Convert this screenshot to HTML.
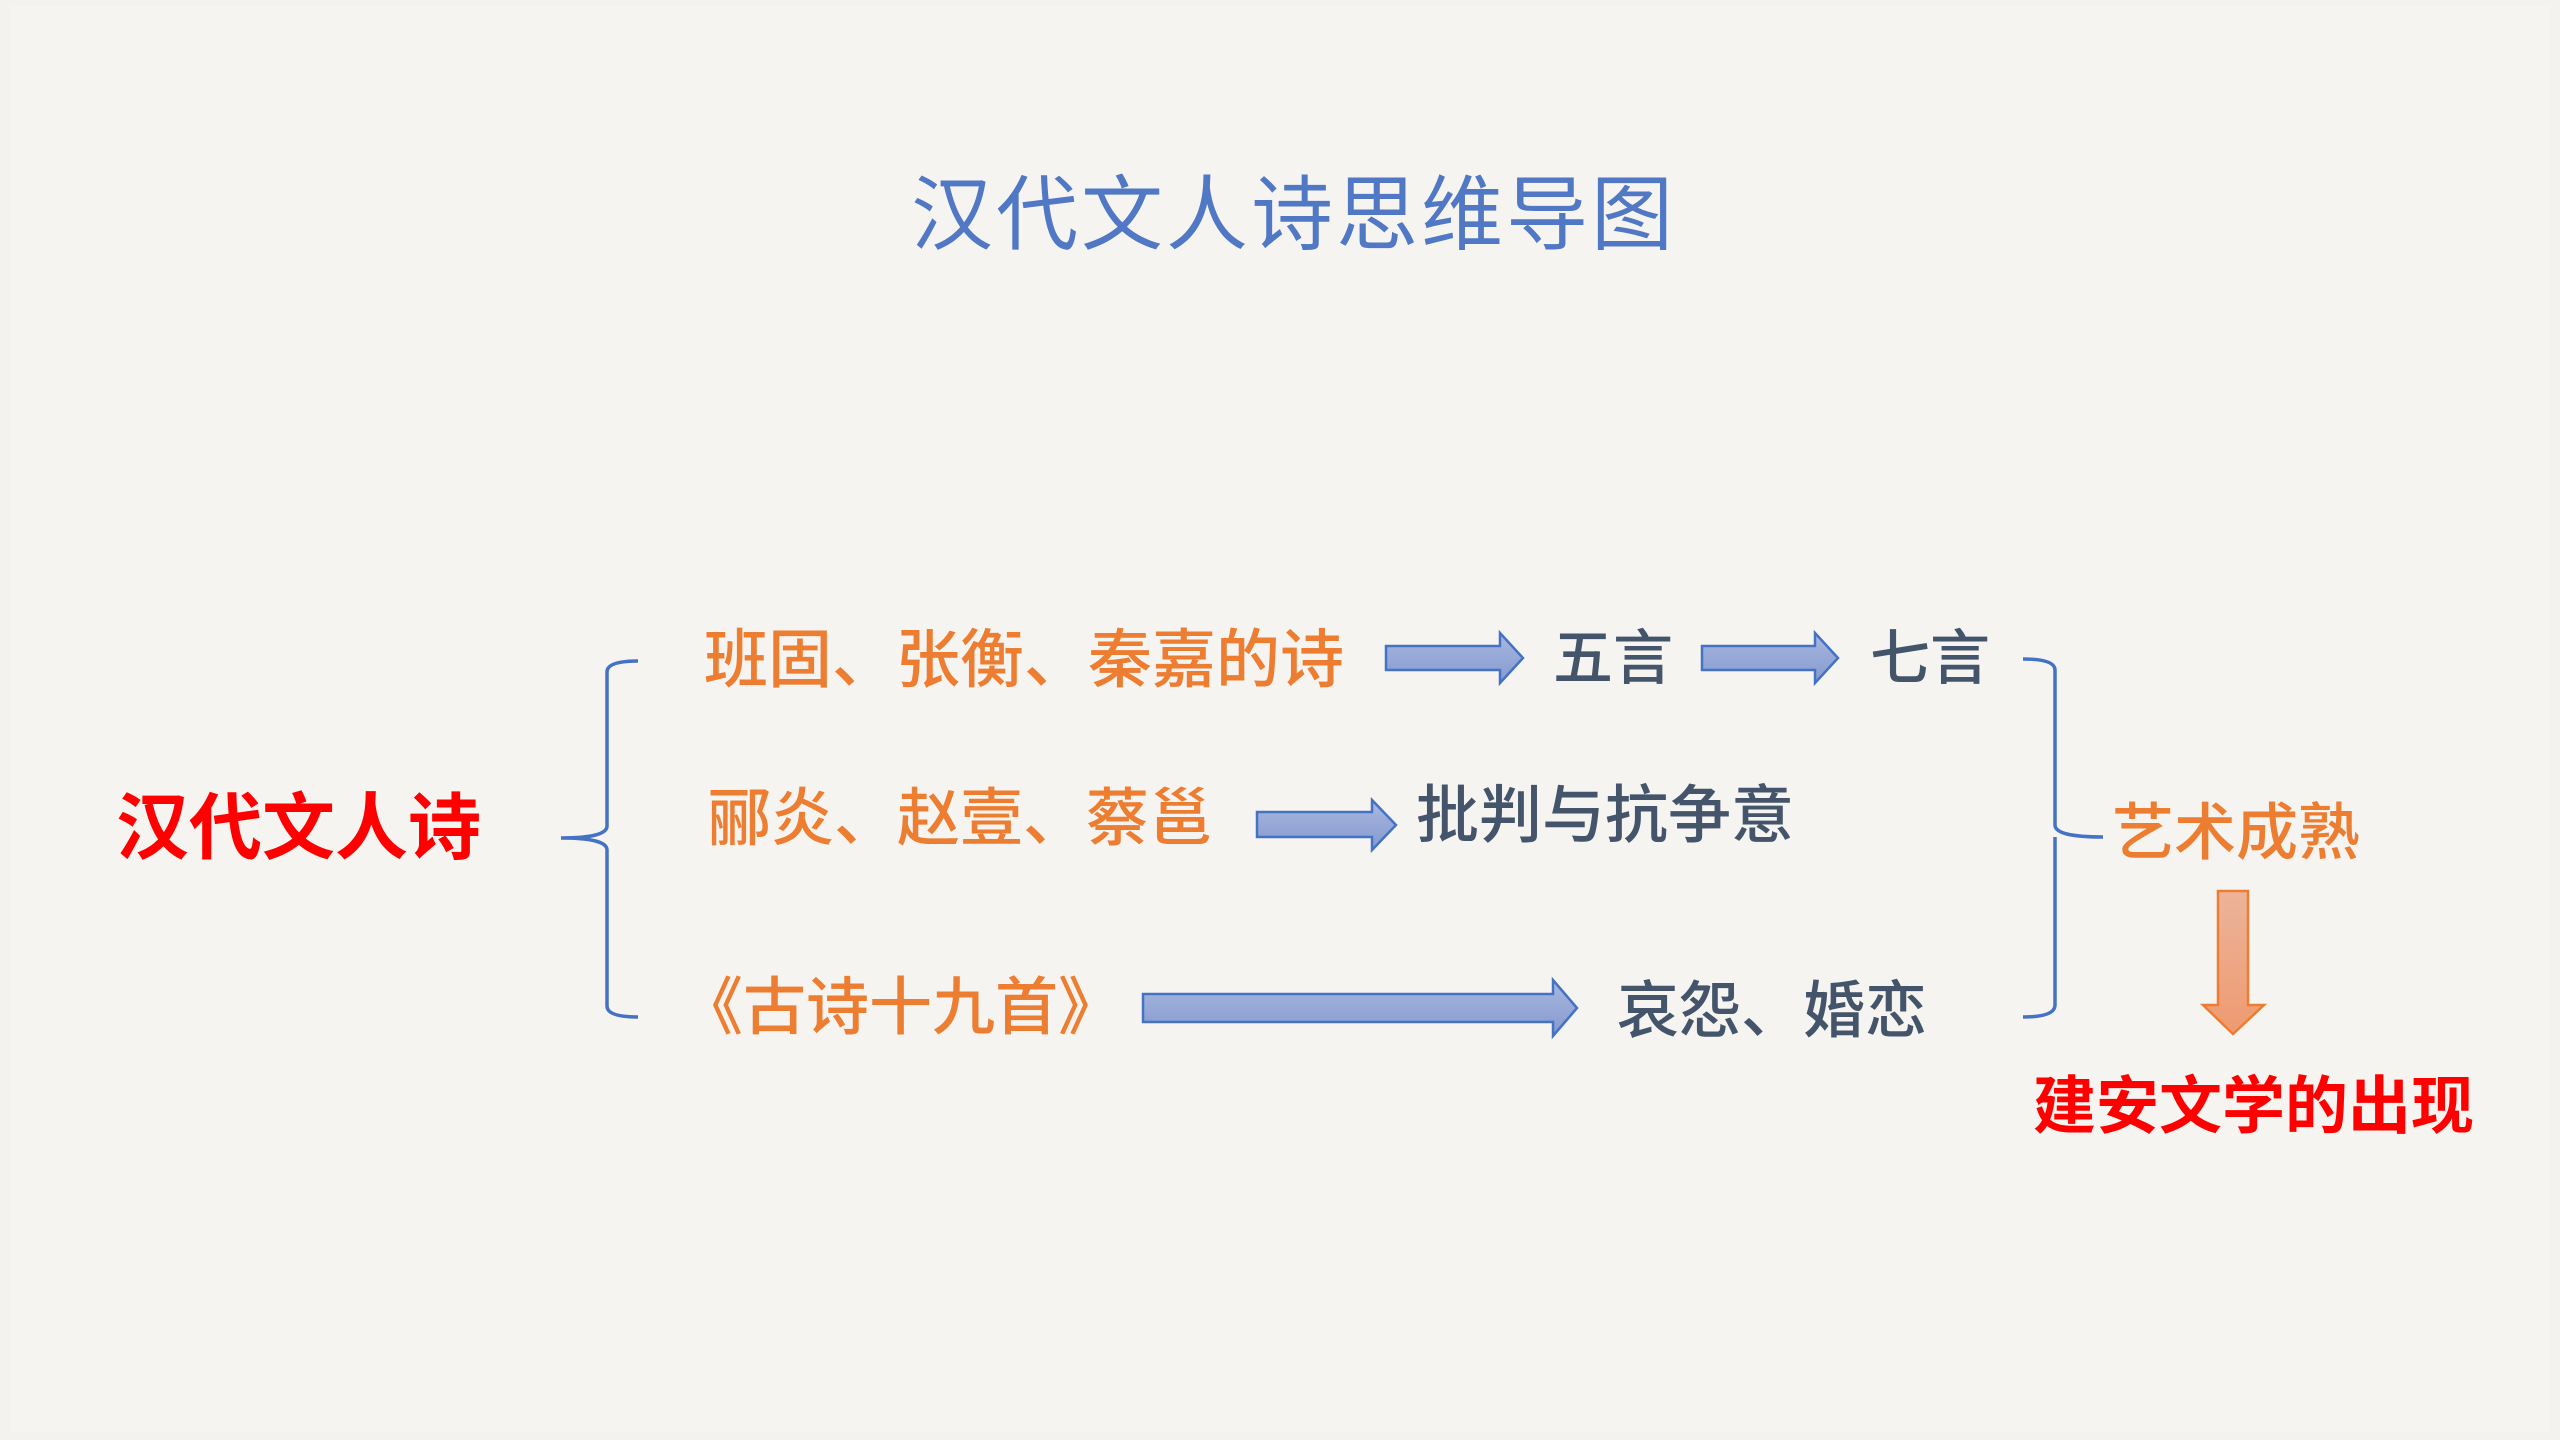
<!DOCTYPE html>
<html><head><meta charset="utf-8"><style>
html,body{margin:0;padding:0}
body{width:2560px;height:1440px;position:relative;overflow:hidden;background:#f4f2ee;font-family:"Liberation Sans","Noto Sans CJK SC",sans-serif}
.t{position:absolute;line-height:1;white-space:nowrap}
.o{color:#ed7d31;font-weight:500}
.g{color:#44546a;font-weight:500}
</style></head><body>
<div style="position:absolute;left:10px;top:6px;right:10px;bottom:8px;background:#f6f4f0"></div>
<div class="t" style="left:911px;top:175px;font-size:82px;color:#5078c4;letter-spacing:3px">汉代文人诗思维导图</div>
<div class="t" style="left:116px;top:792px;font-size:73px;color:#ff0000;font-weight:700">汉代文人诗</div>

<div class="t o" style="left:704px;top:628px;font-size:64px;letter-spacing:0px">班固、张衡、秦嘉的诗</div>
<div class="t g" style="left:1553px;top:629px;font-size:60px">五言</div>
<div class="t g" style="left:1870px;top:629px;font-size:60px">七言</div>
<div class="t o" style="left:708px;top:788px;font-size:63px">郦炎、赵壹、蔡邕</div>
<div class="t g" style="left:1416px;top:785px;font-size:63px">批判与抗争意</div>
<div class="t o" style="left:680px;top:977px;font-size:63px">《古诗十九首》</div>
<div class="t g" style="left:1617px;top:981px;font-size:62px">哀怨、婚恋</div>
<div class="t o" style="left:2112px;top:803px;font-size:62px">艺术成熟</div>
<div class="t" style="left:2033px;top:1076px;font-size:63px;color:#ff0000;font-weight:700">建安文学的出现</div>

<svg width="2560" height="1440" style="position:absolute;left:0;top:0">
<defs><linearGradient id="bg" x1="0" y1="0" x2="0" y2="1"><stop offset="0" stop-color="#a9b8df"/><stop offset="1" stop-color="#8499cf"/></linearGradient>
<linearGradient id="og" x1="0" y1="0" x2="0" y2="1"><stop offset="0" stop-color="#ecb49a"/><stop offset="1" stop-color="#ee9a70"/></linearGradient></defs>
<g fill="none" stroke="#4472c4" stroke-width="3.5">
<path d="M638,661 Q607,661 607,672 L607,826 Q607,838 561,838 Q607,838 607,850 L607,1006 Q607,1017 638,1017"/>
<path d="M2023,659 Q2055,659 2055,670 L2055,825 Q2055,837 2103,837 M2055,837 Q2055,849 2055,849 L2055,1005 Q2055,1017 2023,1017"/>
</g>
<g fill="url(#bg)" stroke="#4472c4" stroke-width="2.5">
<path d="M1386,646 L1500,646 L1500,633 L1523,658 L1500,683 L1500,670 L1386,670 Z"/>
<path d="M1702,646 L1815,646 L1815,633 L1838,658 L1815,683 L1815,670 L1702,670 Z"/>
<path d="M1257,812 L1372,812 L1372,800 L1396,825 L1372,850 L1372,837 L1257,837 Z"/>
<path d="M1143,994 L1553,994 L1553,980 L1577,1008 L1553,1036 L1553,1022 L1143,1022 Z"/>
</g>
<path d="M2218,891 L2248,891 L2248,1005 L2264,1005 L2233,1034 L2203,1005 L2218,1005 Z" fill="url(#og)" stroke="#ed7d31" stroke-width="2.5"/>
</svg>
</body></html>
